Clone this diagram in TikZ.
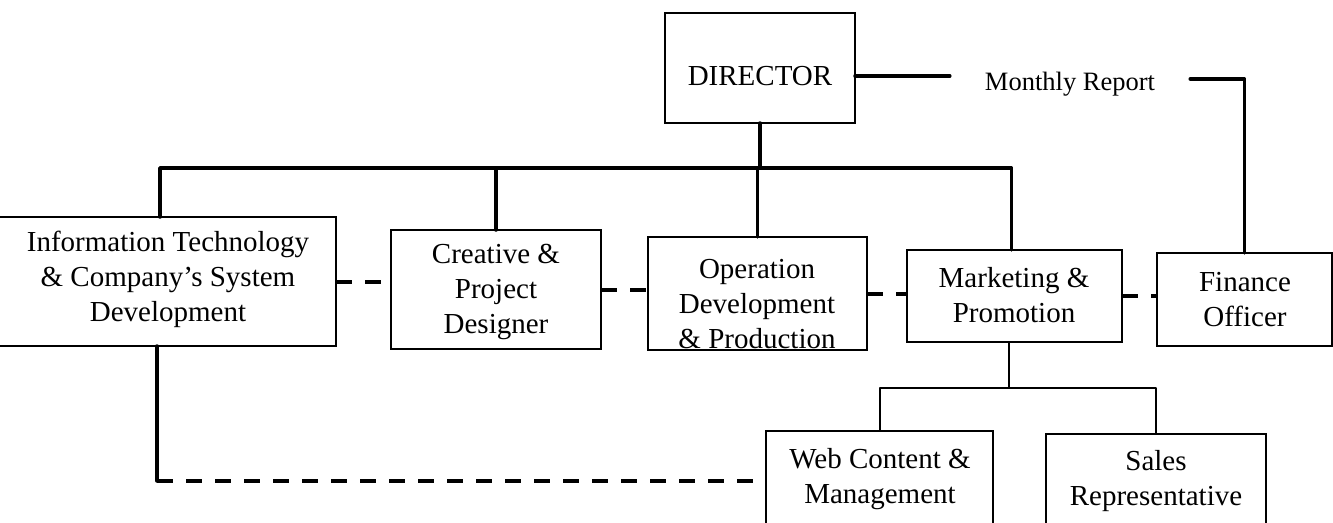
\documentclass[tikz,border=0pt]{standalone}
\usepackage{fontspec}
\setmainfont{Liberation Serif}
\begin{document}
\begin{tikzpicture}[x=1pt,y=-1pt,
  box/.style={draw, line width=1.8pt, inner sep=0pt, outer sep=0pt},
  lbl/.style={align=center, inner sep=0pt, font=\fontsize{29}{35}\selectfont},
  main/.style={line width=3.5pt, line cap=round, line join=round},
  sub/.style={line width=2pt, line join=round},
  dsh/.style={line width=4pt, dash pattern=on 16pt off 13pt}]
\useasboundingbox (0,0) rectangle (1333,522);
\clip (0,0) rectangle (1333,522);

% boxes
\node[box, minimum width=190pt, minimum height=110pt] (dir) at (760,68) {};
\node[box, minimum width=352pt, minimum height=129pt] (it)  at (160,281.5) {};
\node[box, minimum width=210pt, minimum height=119pt] (cre) at (496,289.5) {};
\node[box, minimum width=219pt, minimum height=113pt] (ops) at (757.5,293.5) {};
\node[box, minimum width=215pt, minimum height=92pt]  (mkt) at (1014.5,296) {};
\node[box, minimum width=175pt, minimum height=93pt]  (fin) at (1244.5,299.5) {};
\node[box, minimum width=227pt, minimum height=99pt]  (web) at (879.5,480.5) {};
\node[box, minimum width=220pt, minimum height=96pt]  (sal) at (1156,482) {};

% box texts
\node[lbl] (dirt) at (760,76) {DIRECTOR};
\node[lbl] (itt)  at (168,279) {Information Technology\\ \& Company's System\\ Development};
\node[lbl] (cret) at (496,292) {Creative \&\\ Project\\ Designer};
\node[lbl] (opst) at (757,304) {Operation\\ Development\\ \& Production};
\node[lbl] (mktt) at (1014,295) {Marketing \&\\ Promotion};
\node[lbl] (fint) at (1245,300) {Finance\\ Officer};
\node[lbl] (webt) at (880,479) {Web Content \&\\ Management};
\node[lbl] (salt) at (1156,481) {Sales\\ Representative};

% monthly report link
\node[inner xsep=35pt, inner ysep=0pt, font=\fontsize{26.5}{30}\selectfont] (mr) at (1070,84) {Monthly Report};
\coordinate (mry) at (0,79);
\draw[main] ([yshift=-8pt]dir.east) -- ([yshift=-8pt]dir.east -| mr.west);
\draw[main] (mr.east |- mry) -| (fin.north);

% director to departments
\coordinate (bus) at (0,168);
\draw[main] (dir.south) -- (dir.south |- bus);
\draw[main] (it.north) |- ([xshift=-3pt]mkt.north |- bus) -- ([xshift=-3pt]mkt.north);
\draw[main] (cre.north) -- (cre.north |- bus);
\draw[main] (ops.north) -- (ops.north |- bus);

% coordination links between departments
\draw[dsh] (it.east) -- (it.east -| cre.west);
\draw[dsh] (cre.east) -- (cre.east -| ops.west);
\draw[dsh] (ops.east) -- (ops.east -| mkt.west);
\draw[dsh] (mkt.east) -- (mkt.east -| fin.west);

% marketing sub-units
\coordinate (sub) at (0,388);
\draw[sub] ([xshift=-6pt]mkt.south) -- ([xshift=-6pt]mkt.south |- sub);
\draw[sub] (web.north) |- (sal.north |- sub) -- (sal.north);

% IT to web content
\coordinate (dl) at (157,481);
\draw[main] ([xshift=-3pt]it.south) -- (dl);
\draw[dsh] (dl) -- (dl -| web.west);
\end{tikzpicture}
\end{document}
